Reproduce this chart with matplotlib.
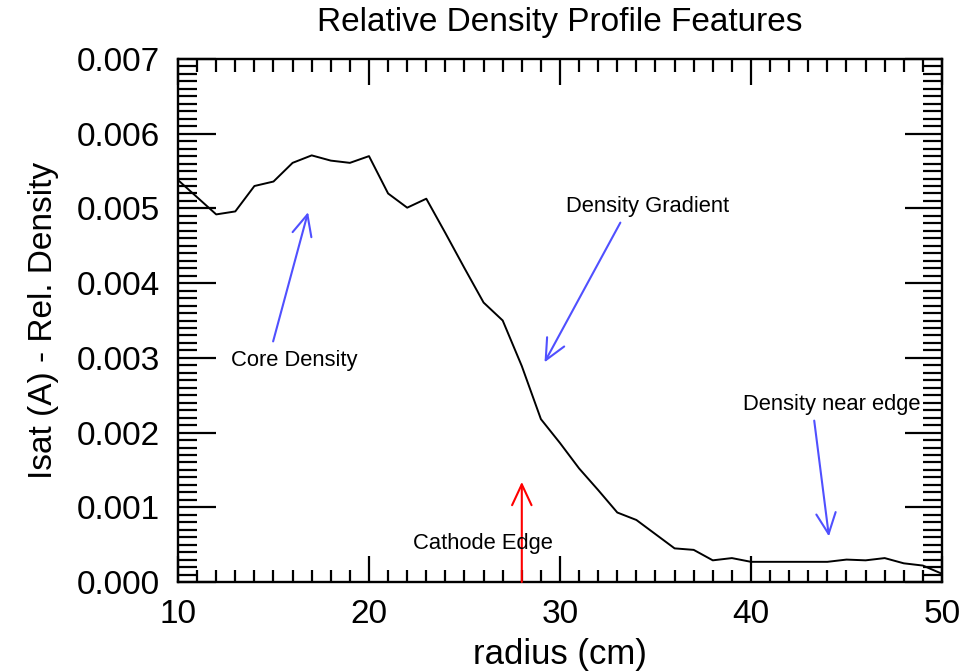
import matplotlib
matplotlib.use("Agg")
import matplotlib.pyplot as plt
from matplotlib.ticker import MultipleLocator, FormatStrFormatter

plt.rcParams['font.family'] = ['Liberation Sans', 'DejaVu Sans']

radius = list(range(10, 51))
density = [0.00538, 0.00515, 0.00492, 0.00496, 0.00530, 0.00536, 0.00561, 0.00571,
           0.00564, 0.00561, 0.00570, 0.00520, 0.00501, 0.00513, 0.00467, 0.00420,
           0.00374, 0.00350, 0.00289, 0.00218, 0.00186, 0.00152, 0.00123, 0.00093,
           0.00083, 0.00064, 0.00045, 0.00043, 0.00029, 0.00032, 0.00027, 0.00027,
           0.00027, 0.00027, 0.00027, 0.00030, 0.00029, 0.00032, 0.00025, 0.00022,
           0.00011]

title = "Relative Density Profile Features"
xlabel = "radius (cm)"
ylabel = "Isat (A) - Rel. Density"

# annotations: (text, text_pos, arrow_tail, arrow_tip, color)
ann_labels = ["Core Density", "Density Gradient", "Density near edge", "Cathode Edge"]
ann_text_xy = [(12.8, 0.00297), (30.3, 0.00502), (39.6, 0.00237), (22.3, 0.00052)]
ann_tail = [(14.98, 0.00322), (33.16, 0.00481), (43.31, 0.00216), (28.0, 0.0)]
ann_tip = [(16.81, 0.00495), (29.19, 0.00294), (44.08, 0.00061), (28.0, 0.00134)]
ann_color = ["#5050ff", "#5050ff", "#5050ff", "#ff0000"]

fig = plt.figure(figsize=(9.79, 6.71), dpi=100)
ax = fig.add_axes([178/979, 1 - 582/671, (942-178)/979, (582-59)/671])

ax.plot(radius, density, color='black', lw=1.4)

ax.set_xlim(10, 50)
ax.set_ylim(0, 0.007)
ax.xaxis.set_major_locator(MultipleLocator(10))
ax.xaxis.set_minor_locator(MultipleLocator(1))
ax.yaxis.set_major_locator(MultipleLocator(0.001))
ax.yaxis.set_minor_locator(MultipleLocator(0.0001))
ax.yaxis.set_major_formatter(FormatStrFormatter('%.3f'))

ax.tick_params(axis='x', which='major', direction='in', length=18.5, width=1.6,
               top=True, bottom=True, labelsize=24, pad=12)
ax.tick_params(axis='x', which='minor', direction='in', length=9, width=1.6,
               top=True, bottom=True)
ax.tick_params(axis='y', which='major', direction='in', length=27, width=1.6,
               left=True, right=True, labelsize=24, pad=13)
ax.tick_params(axis='y', which='minor', direction='in', length=13.7, width=1.6,
               left=True, right=True)
for s in ax.spines.values():
    s.set_linewidth(1.7)

ax.set_title(title, fontsize=24, pad=20)
ax.set_xlabel(xlabel, fontsize=25, labelpad=6)
ax.set_ylabel(ylabel, fontsize=24, labelpad=13)

for lab, txy, tail, tip, col in zip(ann_labels, ann_text_xy, ann_tail, ann_tip, ann_color):
    ax.annotate('', xy=tip, xytext=tail,
                arrowprops=dict(arrowstyle='->,head_length=15,head_width=7',
                                mutation_scale=1, color=col, lw=1.5,
                                shrinkA=0, shrinkB=0))
    ax.text(txy[0], txy[1], lab, fontsize=15.8, ha='left', va='center', color='black')

fig.savefig("out.png", dpi=100)
